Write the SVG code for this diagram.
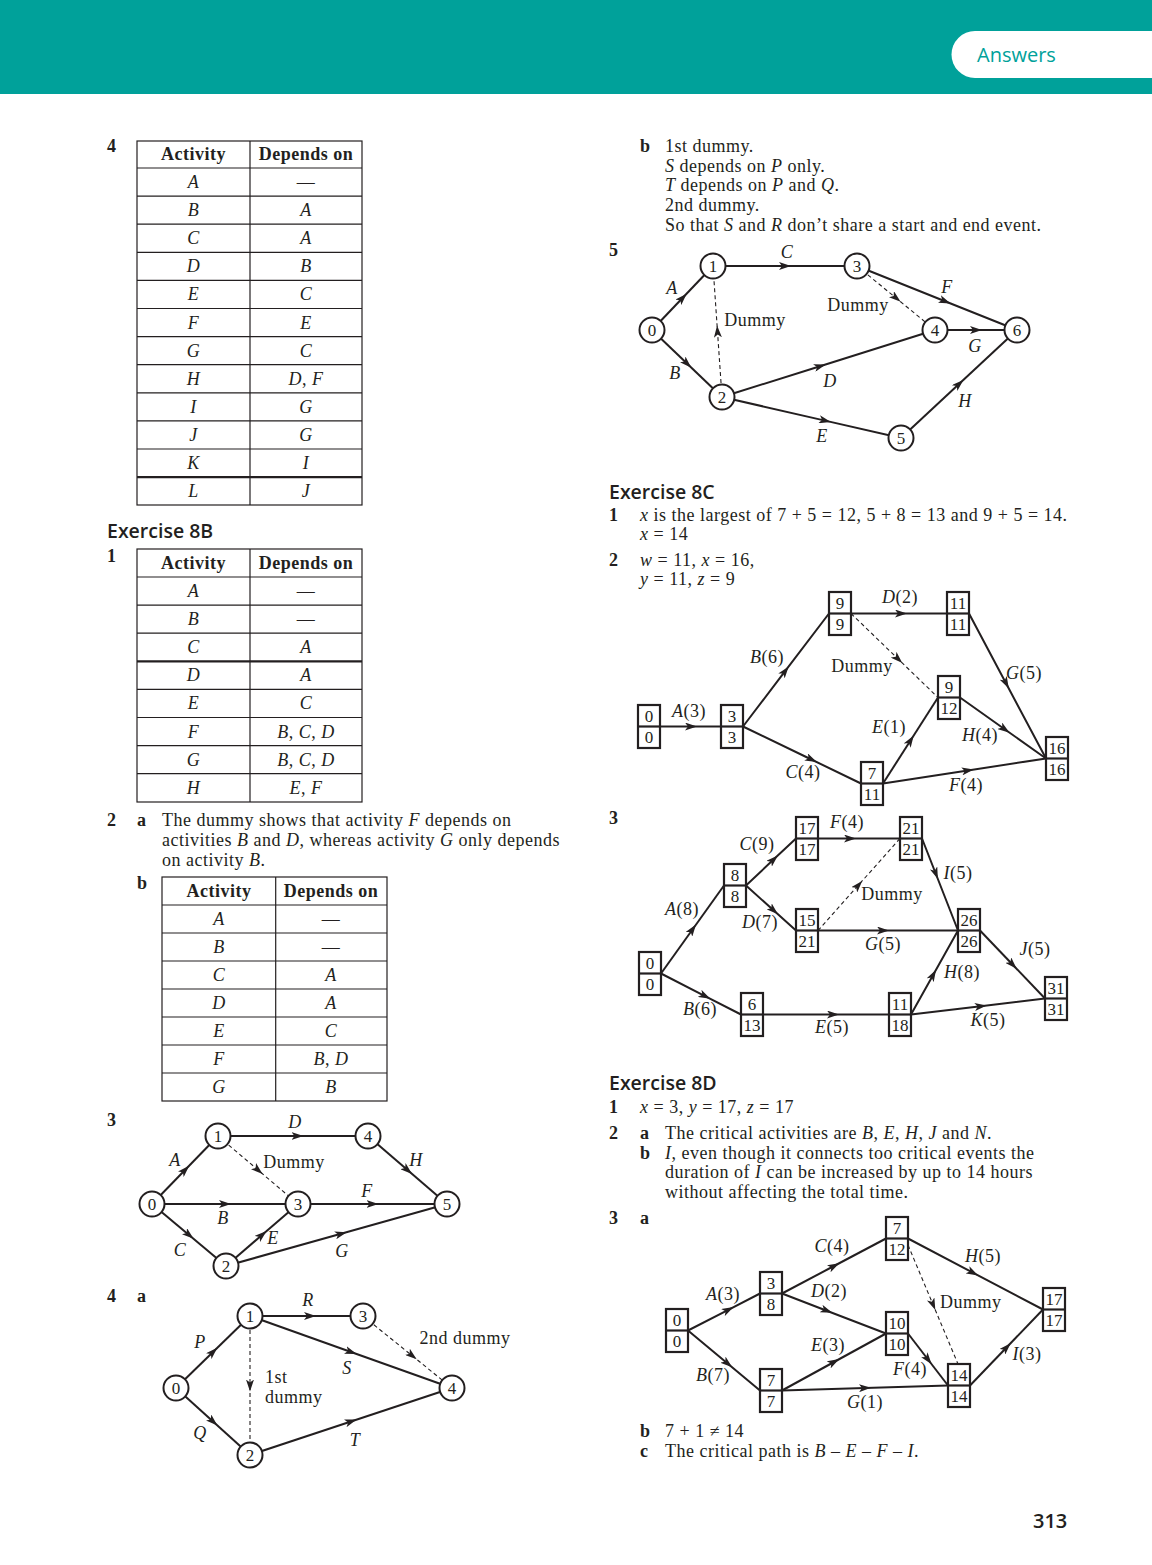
<svg xmlns="http://www.w3.org/2000/svg" width="1152" height="1565" viewBox="0 0 1152 1565">
<style>
.t{font-family:"Liberation Serif",serif;font-size:18px;letter-spacing:0.5px;fill:#231f20}
.i{font-style:italic}
.b{font-weight:bold}
.m{text-anchor:middle}
.h{font-family:"Open Sans","Noto Sans",sans-serif;font-weight:600;font-size:19.5px;fill:#231f20}
.e{stroke:#231f20;stroke-width:2;fill:none;marker-mid:url(#ah)}
.d{stroke:#231f20;stroke-width:1.1;stroke-dasharray:4 3;fill:none;marker-mid:url(#ah)}
.n circle{fill:#fff;stroke:#231f20;stroke-width:2}
.n text,.bx text{font-family:"Liberation Serif",serif;font-size:17px;fill:#231f20;text-anchor:middle}
.bx rect{fill:#fff;stroke:#231f20;stroke-width:2.2}
.bx line{stroke:#231f20;stroke-width:2.2}
.tb line{stroke:#231f20;stroke-width:1.2}
.tb rect{fill:none;stroke:#231f20;stroke-width:1.2}
</style>
<defs>
<marker id="ah" viewBox="0 0 12 8" refX="6" refY="4" markerWidth="12" markerHeight="8" orient="auto" markerUnits="userSpaceOnUse"><path d="M0,0 L12,4 L0,8 L3,4 z" fill="#231f20"/></marker>
</defs>
<rect width="1152" height="1565" fill="#fff"/>
<!-- header -->
<rect x="0" y="0" width="1152" height="94" fill="#00a19a"/>
<path d="M975,31 H1152 V78 H975 A23.5,23.5 0 0 1 975,31 z" fill="#fff"/>
<text x="977" y="62" font-family="Open Sans, Noto Sans, sans-serif" font-size="20" fill="#00a19a">Answers</text>

<!-- Left column: Q4 table -->
<text class="t b" x="107" y="152">4</text>
<g id="table4" class="tb">
<rect x="137" y="141" width="225" height="364"/>
<line x1="250" y1="141" x2="250" y2="505"/>
<line x1="137" y1="168" x2="362" y2="168"/>
<line x1="137" y1="196.1" x2="362" y2="196.1"/>
<line x1="137" y1="224.2" x2="362" y2="224.2"/>
<line x1="137" y1="252.3" x2="362" y2="252.3"/>
<line x1="137" y1="280.4" x2="362" y2="280.4"/>
<line x1="137" y1="308.5" x2="362" y2="308.5"/>
<line x1="137" y1="336.6" x2="362" y2="336.6"/>
<line x1="137" y1="364.7" x2="362" y2="364.7"/>
<line x1="137" y1="392.8" x2="362" y2="392.8"/>
<line x1="137" y1="420.9" x2="362" y2="420.9"/>
<line x1="137" y1="449" x2="362" y2="449"/>
<line x1="137" y1="477.1" x2="362" y2="477.1" style="stroke-width:2.2"/>
<text class="t b m" x="193.5" y="160">Activity</text>
<text class="t b m" x="306" y="160">Depends on</text>
<text class="t i m" x="193.5" y="188">A</text><text class="t m" x="306" y="188">—</text>
<text class="t i m" x="193.5" y="216.1">B</text><text class="t i m" x="306" y="216.1">A</text>
<text class="t i m" x="193.5" y="244.2">C</text><text class="t i m" x="306" y="244.2">A</text>
<text class="t i m" x="193.5" y="272.3">D</text><text class="t i m" x="306" y="272.3">B</text>
<text class="t i m" x="193.5" y="300.4">E</text><text class="t i m" x="306" y="300.4">C</text>
<text class="t i m" x="193.5" y="328.5">F</text><text class="t i m" x="306" y="328.5">E</text>
<text class="t i m" x="193.5" y="356.6">G</text><text class="t i m" x="306" y="356.6">C</text>
<text class="t i m" x="193.5" y="384.7">H</text><text class="t i m" x="306" y="384.7">D<tspan font-style="normal">, </tspan>F</text>
<text class="t i m" x="193.5" y="412.8">I</text><text class="t i m" x="306" y="412.8">G</text>
<text class="t i m" x="193.5" y="440.9">J</text><text class="t i m" x="306" y="440.9">G</text>
<text class="t i m" x="193.5" y="469">K</text><text class="t i m" x="306" y="469">I</text>
<text class="t i m" x="193.5" y="497.1">L</text><text class="t i m" x="306" y="497.1">J</text>
</g>

<!-- Exercise 8B -->
<text class="h" x="107" y="538">Exercise 8B</text>
<text class="t b" x="107" y="562">1</text>
<g id="table8b1" class="tb">
<rect x="137" y="549" width="225" height="253"/>
<line x1="250" y1="549" x2="250" y2="802"/>
<line x1="137" y1="577" x2="362" y2="577"/>
<line x1="137" y1="605.1" x2="362" y2="605.1"/>
<line x1="137" y1="633.2" x2="362" y2="633.2"/>
<line x1="137" y1="661.3" x2="362" y2="661.3" style="stroke-width:2.2"/>
<line x1="137" y1="689.4" x2="362" y2="689.4"/>
<line x1="137" y1="717.5" x2="362" y2="717.5"/>
<line x1="137" y1="745.6" x2="362" y2="745.6"/>
<line x1="137" y1="773.7" x2="362" y2="773.7"/>
<text class="t b m" x="193.5" y="569">Activity</text>
<text class="t b m" x="306" y="569">Depends on</text>
<text class="t i m" x="193.5" y="597">A</text><text class="t m" x="306" y="597">—</text>
<text class="t i m" x="193.5" y="625.1">B</text><text class="t m" x="306" y="625.1">—</text>
<text class="t i m" x="193.5" y="653.2">C</text><text class="t i m" x="306" y="653.2">A</text>
<text class="t i m" x="193.5" y="681.3">D</text><text class="t i m" x="306" y="681.3">A</text>
<text class="t i m" x="193.5" y="709.4">E</text><text class="t i m" x="306" y="709.4">C</text>
<text class="t i m" x="193.5" y="737.5">F</text><text class="t i m" x="306" y="737.5">B<tspan font-style="normal">, </tspan>C<tspan font-style="normal">, </tspan>D</text>
<text class="t i m" x="193.5" y="765.6">G</text><text class="t i m" x="306" y="765.6">B<tspan font-style="normal">, </tspan>C<tspan font-style="normal">, </tspan>D</text>
<text class="t i m" x="193.5" y="793.7">H</text><text class="t i m" x="306" y="793.7">E<tspan font-style="normal">, </tspan>F</text>
</g>

<text class="t b" x="107" y="826">2</text>
<text class="t b" x="137" y="826">a</text>
<text class="t" x="162" y="826">The dummy shows that activity <tspan class="i">F</tspan> depends on</text>
<text class="t" x="162" y="846">activities <tspan class="i">B</tspan> and <tspan class="i">D</tspan>, whereas activity <tspan class="i">G</tspan> only depends</text>
<text class="t" x="162" y="866">on activity <tspan class="i">B</tspan>.</text>
<text class="t b" x="137" y="889">b</text>
<g id="table8b2b" class="tb">
<rect x="162" y="877" width="225" height="224"/>
<line x1="275.7" y1="877" x2="275.7" y2="1101"/>
<line x1="162" y1="905" x2="387" y2="905"/>
<line x1="162" y1="933" x2="387" y2="933"/>
<line x1="162" y1="961" x2="387" y2="961"/>
<line x1="162" y1="989" x2="387" y2="989"/>
<line x1="162" y1="1017" x2="387" y2="1017"/>
<line x1="162" y1="1045" x2="387" y2="1045"/>
<line x1="162" y1="1073" x2="387" y2="1073"/>
<text class="t b m" x="219" y="897">Activity</text>
<text class="t b m" x="331" y="897">Depends on</text>
<text class="t i m" x="219" y="925">A</text><text class="t m" x="331" y="925">—</text>
<text class="t i m" x="219" y="953">B</text><text class="t m" x="331" y="953">—</text>
<text class="t i m" x="219" y="981">C</text><text class="t i m" x="331" y="981">A</text>
<text class="t i m" x="219" y="1009">D</text><text class="t i m" x="331" y="1009">A</text>
<text class="t i m" x="219" y="1037">E</text><text class="t i m" x="331" y="1037">C</text>
<text class="t i m" x="219" y="1065">F</text><text class="t i m" x="331" y="1065">B<tspan font-style="normal">, </tspan>D</text>
<text class="t i m" x="219" y="1093">G</text><text class="t i m" x="331" y="1093">B</text>
</g>

<!-- 8B Q3 network -->
<text class="t b" x="107" y="1126">3</text>
<g id="l3-connectors">
<path class="e" d="M152,1204 L185,1170 L218,1136"/>
<path class="e" d="M152,1204 L225,1204 L298,1204"/>
<path class="e" d="M152,1204 L189,1235 L226,1266"/>
<path class="e" d="M226,1266 L262,1235 L298,1204"/>
<path class="e" d="M218,1136 L297.5,1136 L368,1136"/>
<path class="d" d="M218,1136 L258,1170 L298,1204"/>
<path class="e" d="M298,1204 L372.5,1204 L447,1204"/>
<path class="e" d="M368,1136 L407.5,1170 L447,1204"/>
<path class="e" d="M226,1266 L341,1233.8 L447,1204"/>
</g>
<g id="l3-n0" class="n"><circle cx="152" cy="1204" r="12.5"/><text x="152" y="1210">0</text></g>
<g id="l3-n1" class="n"><circle cx="218" cy="1136" r="12.5"/><text x="218" y="1142">1</text></g>
<g id="l3-n2" class="n"><circle cx="226" cy="1266" r="12.5"/><text x="226" y="1272">2</text></g>
<g id="l3-n3" class="n"><circle cx="298" cy="1204" r="12.5"/><text x="298" y="1210">3</text></g>
<g id="l3-n4" class="n"><circle cx="368" cy="1136" r="12.5"/><text x="368" y="1142">4</text></g>
<g id="l3-n5" class="n"><circle cx="447" cy="1204" r="12.5"/><text x="447" y="1210">5</text></g>
<g id="l3-labels">
<text class="t i m" x="295" y="1128">D</text>
<text class="t i m" x="175" y="1166">A</text>
<text class="t m" x="294" y="1168">Dummy</text>
<text class="t i m" x="416" y="1166">H</text>
<text class="t i m" x="367" y="1197">F</text>
<text class="t i m" x="223" y="1224">B</text>
<text class="t i m" x="273" y="1244">E</text>
<text class="t i m" x="180" y="1256">C</text>
<text class="t i m" x="342" y="1257">G</text>
</g>

<!-- 8B Q4a network -->
<text class="t b" x="107" y="1302">4</text>
<text class="t b" x="137" y="1302">a</text>
<g id="l4-connectors">
<path class="e" d="M176,1388 L213,1352 L250,1316"/>
<path class="e" d="M176,1388 L213,1421.5 L250,1455"/>
<path class="e" d="M250,1316 L310,1316 L363,1316"/>
<path class="e" d="M250,1316 L351,1352 L452,1388"/>
<path class="d" d="M250,1316 L250,1385.5 L250,1455"/>
<path class="d" d="M363,1316 L412,1355.6 L452,1388"/>
<path class="e" d="M250,1455 L351,1421.5 L452,1388"/>
</g>
<g id="l4-n0" class="n"><circle cx="176" cy="1388" r="12.5"/><text x="176" y="1394">0</text></g>
<g id="l4-n1" class="n"><circle cx="250" cy="1316" r="12.5"/><text x="250" y="1322">1</text></g>
<g id="l4-n2" class="n"><circle cx="250" cy="1455" r="12.5"/><text x="250" y="1461">2</text></g>
<g id="l4-n3" class="n"><circle cx="363" cy="1316" r="12.5"/><text x="363" y="1322">3</text></g>
<g id="l4-n4" class="n"><circle cx="452" cy="1388" r="12.5"/><text x="452" y="1394">4</text></g>
<g id="l4-labels">
<text class="t i m" x="308" y="1306">R</text>
<text class="t i m" x="200" y="1348">P</text>
<text class="t m" x="465" y="1344">2nd dummy</text>
<text class="t i m" x="347" y="1374">S</text>
<text class="t" x="265" y="1383">1st</text>
<text class="t" x="265" y="1403">dummy</text>
<text class="t i m" x="200" y="1439">Q</text>
<text class="t i m" x="355" y="1446">T</text>
</g>

<!-- Right column: b text -->
<text class="t b" x="640" y="152">b</text>
<text class="t" x="665" y="152">1st dummy.</text>
<text class="t" x="665" y="172"><tspan class="i">S</tspan> depends on <tspan class="i">P</tspan> only.</text>
<text class="t" x="665" y="191"><tspan class="i">T</tspan> depends on <tspan class="i">P</tspan> and <tspan class="i">Q</tspan>.</text>
<text class="t" x="665" y="211">2nd dummy.</text>
<text class="t" x="665" y="231">So that <tspan class="i">S</tspan> and <tspan class="i">R</tspan> don’t share a start and end event.</text>

<!-- Q5 network -->
<text class="t b" x="609" y="256">5</text>
<g id="q5-connectors">
<path class="e" d="M652,330 L682.5,298 L713,266"/>
<path class="e" d="M652,330 L687,363.5 L722,397"/>
<path class="e" d="M713,266 L785,266 L857,266"/>
<path class="e" d="M857,266 L945,301.2 L1017,330"/>
<path class="e" d="M935,330 L976,330 L1017,330"/>
<path class="e" d="M722,397 L820,366.2 L935,330"/>
<path class="e" d="M722,397 L825,420.6 L901,438"/>
<path class="e" d="M901,438 L959,384 L1017,330"/>
<path class="d" d="M722,397 L717.5,331.5 L713,266"/>
<path class="d" d="M857,266 L896,298 L935,330"/>
</g>
<g id="q5-n0" class="n"><circle cx="652" cy="330" r="12.5"/><text x="652" y="336">0</text></g>
<g id="q5-n1" class="n"><circle cx="713" cy="266" r="12.5"/><text x="713" y="272">1</text></g>
<g id="q5-n2" class="n"><circle cx="722" cy="397" r="12.5"/><text x="722" y="403">2</text></g>
<g id="q5-n3" class="n"><circle cx="857" cy="266" r="12.5"/><text x="857" y="272">3</text></g>
<g id="q5-n4" class="n"><circle cx="935" cy="330" r="12.5"/><text x="935" y="336">4</text></g>
<g id="q5-n5" class="n"><circle cx="901" cy="438" r="12.5"/><text x="901" y="444">5</text></g>
<g id="q5-n6" class="n"><circle cx="1017" cy="330" r="12.5"/><text x="1017" y="336">6</text></g>
<g id="q5-labels">
<text class="t i m" x="787" y="258">C</text>
<text class="t i m" x="672" y="294">A</text>
<text class="t i m" x="947" y="293">F</text>
<text class="t m" x="858" y="311">Dummy</text>
<text class="t m" x="755" y="326">Dummy</text>
<text class="t i m" x="975" y="352">G</text>
<text class="t i m" x="675" y="379">B</text>
<text class="t i m" x="830" y="387">D</text>
<text class="t i m" x="965" y="407">H</text>
<text class="t i m" x="822" y="442">E</text>
</g>

<!-- Exercise 8C -->
<text class="h" x="609" y="499">Exercise 8C</text>
<text class="t b" x="609" y="521">1</text>
<text class="t" x="640" y="521"><tspan class="i">x</tspan> is the largest of 7 + 5 = 12, 5 + 8 = 13 and 9 + 5 = 14.</text>
<text class="t" x="640" y="540"><tspan class="i">x</tspan> = 14</text>
<text class="t b" x="609" y="566">2</text>
<text class="t" x="640" y="566"><tspan class="i">w</tspan> = 11, <tspan class="i">x</tspan> = 16,</text>
<text class="t" x="640" y="585"><tspan class="i">y</tspan> = 11, <tspan class="i">z</tspan> = 9</text>

<!-- 8C Q2 network -->
<g id="c2-connectors">
<path class="e" d="M660,726.5 L691,726.5 L721,726.5"/>
<path class="e" d="M743,726.5 L785.1,671.2 L829,613.5"/>
<path class="e" d="M743,726.5 L811.4,759.5 L861,783.5"/>
<path class="e" d="M851,613.5 L901,613.5 L947,613.5"/>
<path class="d" d="M851,613.5 L898,658.9 L938,697.5"/>
<path class="e" d="M883,783.5 L910.5,740.5 L938,697.5"/>
<path class="e" d="M960,697.5 L1004.7,729.2 L1046,758.5"/>
<path class="e" d="M969,613.5 L1006,683.2 L1046,758.5"/>
<path class="e" d="M883,783.5 L967.8,770.5 L1046,758.5"/>
</g>
<g id="c2-b00" class="bx"><rect x="638" y="705" width="22" height="43"/><line x1="638" y1="726.5" x2="660" y2="726.5"/><text x="649" y="721.5">0</text><text x="649" y="743">0</text></g>
<g id="c2-b33" class="bx"><rect x="721" y="705" width="22" height="43"/><line x1="721" y1="726.5" x2="743" y2="726.5"/><text x="732" y="721.5">3</text><text x="732" y="743">3</text></g>
<g id="c2-b99" class="bx"><rect x="829" y="592" width="22" height="43"/><line x1="829" y1="613.5" x2="851" y2="613.5"/><text x="840" y="608.5">9</text><text x="840" y="630">9</text></g>
<g id="c2-b1111" class="bx"><rect x="947" y="592" width="22" height="43"/><line x1="947" y1="613.5" x2="969" y2="613.5"/><text x="958" y="608.5">11</text><text x="958" y="630">11</text></g>
<g id="c2-b912" class="bx"><rect x="938" y="676" width="22" height="43"/><line x1="938" y1="697.5" x2="960" y2="697.5"/><text x="949" y="692.5">9</text><text x="949" y="714">12</text></g>
<g id="c2-b711" class="bx"><rect x="861" y="762" width="22" height="43"/><line x1="861" y1="783.5" x2="883" y2="783.5"/><text x="872" y="778.5">7</text><text x="872" y="800">11</text></g>
<g id="c2-b1616" class="bx"><rect x="1046" y="737" width="22" height="43"/><line x1="1046" y1="758.5" x2="1068" y2="758.5"/><text x="1057" y="753.5">16</text><text x="1057" y="775">16</text></g>
<g id="c2-labels">
<text class="t m" x="689" y="717"><tspan class="i">A</tspan>(3)</text>
<text class="t m" x="767" y="663"><tspan class="i">B</tspan>(6)</text>
<text class="t m" x="803" y="778"><tspan class="i">C</tspan>(4)</text>
<text class="t m" x="900" y="603"><tspan class="i">D</tspan>(2)</text>
<text class="t m" x="862" y="672">Dummy</text>
<text class="t m" x="889" y="733"><tspan class="i">E</tspan>(1)</text>
<text class="t m" x="980" y="741"><tspan class="i">H</tspan>(4)</text>
<text class="t m" x="1024" y="679"><tspan class="i">G</tspan>(5)</text>
<text class="t m" x="966" y="791"><tspan class="i">F</tspan>(4)</text>
</g>

<!-- 8C Q3 network -->
<text class="t b" x="609" y="824">3</text>
<g id="c3-connectors">
<path class="e" d="M661,973.5 L692.5,929.5 L724,885.5"/>
<path class="e" d="M661,973.5 L705,996.1 L741,1014.5"/>
<path class="e" d="M746,885.5 L773.5,859.6 L796,838.5"/>
<path class="e" d="M746,885.5 L773.5,910.3 L796,930.5"/>
<path class="e" d="M818,838.5 L850,838.5 L900,838.5"/>
<path class="d" d="M818,930.5 L858.2,885.4 L900,838.5"/>
<path class="e" d="M818,930.5 L883,930.5 L958,930.5"/>
<path class="e" d="M922,838.5 L935.7,873.5 L958,930.5"/>
<path class="e" d="M763,1014.5 L833,1014.5 L889,1014.5"/>
<path class="e" d="M911,1014.5 L933.1,975 L958,930.5"/>
<path class="e" d="M980,930.5 L1012.5,964.5 L1045,998.5"/>
<path class="e" d="M911,1014.5 L980.7,1006.2 L1045,998.5"/>
</g>
<g id="c3-b00" class="bx"><rect x="639" y="952" width="22" height="43"/><line x1="639" y1="973.5" x2="661" y2="973.5"/><text x="650" y="968.5">0</text><text x="650" y="990">0</text></g>
<g id="c3-b88" class="bx"><rect x="724" y="864" width="22" height="43"/><line x1="724" y1="885.5" x2="746" y2="885.5"/><text x="735" y="880.5">8</text><text x="735" y="902">8</text></g>
<g id="c3-b1717" class="bx"><rect x="796" y="817" width="22" height="43"/><line x1="796" y1="838.5" x2="818" y2="838.5"/><text x="807" y="833.5">17</text><text x="807" y="855">17</text></g>
<g id="c3-b2121" class="bx"><rect x="900" y="817" width="22" height="43"/><line x1="900" y1="838.5" x2="922" y2="838.5"/><text x="911" y="833.5">21</text><text x="911" y="855">21</text></g>
<g id="c3-b1521" class="bx"><rect x="796" y="909" width="22" height="43"/><line x1="796" y1="930.5" x2="818" y2="930.5"/><text x="807" y="925.5">15</text><text x="807" y="947">21</text></g>
<g id="c3-b2626" class="bx"><rect x="958" y="909" width="22" height="43"/><line x1="958" y1="930.5" x2="980" y2="930.5"/><text x="969" y="925.5">26</text><text x="969" y="947">26</text></g>
<g id="c3-b613" class="bx"><rect x="741" y="993" width="22" height="43"/><line x1="741" y1="1014.5" x2="763" y2="1014.5"/><text x="752" y="1009.5">6</text><text x="752" y="1031">13</text></g>
<g id="c3-b1118" class="bx"><rect x="889" y="993" width="22" height="43"/><line x1="889" y1="1014.5" x2="911" y2="1014.5"/><text x="900" y="1009.5">11</text><text x="900" y="1031">18</text></g>
<g id="c3-b3131" class="bx"><rect x="1045" y="977" width="22" height="43"/><line x1="1045" y1="998.5" x2="1067" y2="998.5"/><text x="1056" y="993.5">31</text><text x="1056" y="1015">31</text></g>
<g id="c3-labels">
<text class="t m" x="847" y="828"><tspan class="i">F</tspan>(4)</text>
<text class="t m" x="757" y="850"><tspan class="i">C</tspan>(9)</text>
<text class="t m" x="682" y="915"><tspan class="i">A</tspan>(8)</text>
<text class="t m" x="760" y="928"><tspan class="i">D</tspan>(7)</text>
<text class="t m" x="958" y="879"><tspan class="i">I</tspan>(5)</text>
<text class="t m" x="892" y="900">Dummy</text>
<text class="t m" x="883" y="950"><tspan class="i">G</tspan>(5)</text>
<text class="t m" x="1035" y="955"><tspan class="i">J</tspan>(5)</text>
<text class="t m" x="962" y="978"><tspan class="i">H</tspan>(8)</text>
<text class="t m" x="700" y="1015"><tspan class="i">B</tspan>(6)</text>
<text class="t m" x="832" y="1033"><tspan class="i">E</tspan>(5)</text>
<text class="t m" x="988" y="1026"><tspan class="i">K</tspan>(5)</text>
</g>

<!-- Exercise 8D -->
<text class="h" x="609" y="1090">Exercise 8D</text>
<text class="t b" x="609" y="1113">1</text>
<text class="t" x="640" y="1113"><tspan class="i">x</tspan> = 3, <tspan class="i">y</tspan> = 17, <tspan class="i">z</tspan> = 17</text>
<text class="t b" x="609" y="1139">2</text>
<text class="t b" x="640" y="1139">a</text>
<text class="t" x="665" y="1139">The critical activities are <tspan class="i">B</tspan>, <tspan class="i">E</tspan>, <tspan class="i">H</tspan>, <tspan class="i">J</tspan> and <tspan class="i">N</tspan>.</text>
<text class="t b" x="640" y="1159">b</text>
<text class="t" x="665" y="1159"><tspan class="i">I</tspan>, even though it connects too critical events the</text>
<text class="t" x="665" y="1178">duration of <tspan class="i">I</tspan> can be increased by up to 14 hours</text>
<text class="t" x="665" y="1198">without affecting the total time.</text>
<text class="t b" x="609" y="1224">3</text>
<text class="t b" x="640" y="1224">a</text>

<!-- 8D Q3 network -->
<g id="d3-connectors">
<path class="e" d="M688,1330.5 L728.3,1309.8 L760,1293.5"/>
<path class="e" d="M688,1330.5 L727.6,1363.5 L760,1390.5"/>
<path class="e" d="M782,1293.5 L834,1266 L886,1238.5"/>
<path class="e" d="M782,1293.5 L826.7,1310.7 L886,1333.5"/>
<path class="e" d="M782,1390.5 L834,1362 L886,1333.5"/>
<path class="e" d="M782,1390.5 L865,1388 L948,1385.5"/>
<path class="e" d="M908,1333.5 L928,1359.5 L948,1385.5"/>
<path class="e" d="M908,1238.5 L972.8,1272.6 L1043,1309.5"/>
<path class="e" d="M970,1385.5 L1006.5,1347.5 L1043,1309.5"/>
<path class="d" d="M908,1245 L933,1304.5 L958,1364"/>
</g>
<g id="d3-b00" class="bx"><rect x="666" y="1309" width="22" height="43"/><line x1="666" y1="1330.5" x2="688" y2="1330.5"/><text x="677" y="1325.5">0</text><text x="677" y="1347">0</text></g>
<g id="d3-b38" class="bx"><rect x="760" y="1272" width="22" height="43"/><line x1="760" y1="1293.5" x2="782" y2="1293.5"/><text x="771" y="1288.5">3</text><text x="771" y="1310">8</text></g>
<g id="d3-b712" class="bx"><rect x="886" y="1217" width="22" height="43"/><line x1="886" y1="1238.5" x2="908" y2="1238.5"/><text x="897" y="1233.5">7</text><text x="897" y="1255">12</text></g>
<g id="d3-b1010" class="bx"><rect x="886" y="1312" width="22" height="43"/><line x1="886" y1="1333.5" x2="908" y2="1333.5"/><text x="897" y="1328.5">10</text><text x="897" y="1350">10</text></g>
<g id="d3-b77" class="bx"><rect x="760" y="1369" width="22" height="43"/><line x1="760" y1="1390.5" x2="782" y2="1390.5"/><text x="771" y="1385.5">7</text><text x="771" y="1407">7</text></g>
<g id="d3-b1414" class="bx"><rect x="948" y="1364" width="22" height="43"/><line x1="948" y1="1385.5" x2="970" y2="1385.5"/><text x="959" y="1380.5">14</text><text x="959" y="1402">14</text></g>
<g id="d3-b1717" class="bx"><rect x="1043" y="1288" width="22" height="43"/><line x1="1043" y1="1309.5" x2="1065" y2="1309.5"/><text x="1054" y="1304.5">17</text><text x="1054" y="1326">17</text></g>
<g id="d3-labels">
<text class="t m" x="832" y="1252"><tspan class="i">C</tspan>(4)</text>
<text class="t m" x="983" y="1262"><tspan class="i">H</tspan>(5)</text>
<text class="t m" x="723" y="1300"><tspan class="i">A</tspan>(3)</text>
<text class="t m" x="829" y="1297"><tspan class="i">D</tspan>(2)</text>
<text class="t" x="940" y="1308">Dummy</text>
<text class="t m" x="828" y="1351"><tspan class="i">E</tspan>(3)</text>
<text class="t m" x="1027" y="1360"><tspan class="i">I</tspan>(3)</text>
<text class="t m" x="910" y="1375"><tspan class="i">F</tspan>(4)</text>
<text class="t m" x="713" y="1381"><tspan class="i">B</tspan>(7)</text>
<text class="t m" x="865" y="1408"><tspan class="i">G</tspan>(1)</text>
</g>

<text class="t b" x="640" y="1437">b</text>
<text class="t" x="665" y="1437">7 + 1 ≠ 14</text>
<text class="t b" x="640" y="1457">c</text>
<text class="t" x="665" y="1457">The critical path is <tspan class="i">B</tspan> – <tspan class="i">E</tspan> – <tspan class="i">F</tspan> – <tspan class="i">I</tspan>.</text>

<text x="1033" y="1528" font-family="Open Sans, Noto Sans, sans-serif" font-weight="600" font-size="20" fill="#231f20">313</text>
</svg>
